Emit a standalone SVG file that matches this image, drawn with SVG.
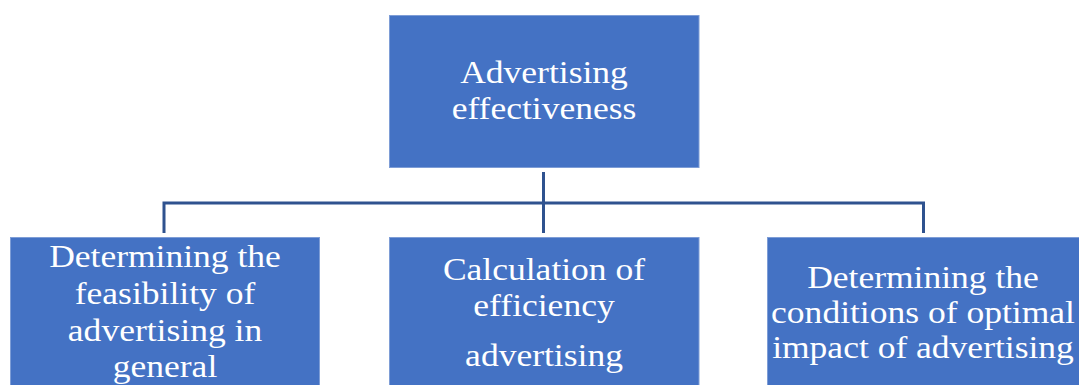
<svg xmlns="http://www.w3.org/2000/svg" width="1079" height="385" viewBox="0 0 1079 385">
  <style>
    .box { fill: #4472C4; stroke: #7E9DD6; stroke-width: 1; }
    .lbl { font-family: "Liberation Serif", "Times New Roman", serif; font-size: 32px; fill: #FFFFFF; text-anchor: middle; }
    .link { fill: none; stroke: #2F528F; stroke-width: 3; }
  </style>
  <rect width="1079" height="385" fill="#FFFFFF"/>

  <!-- tree connectors -->
  <g id="connectors">
    <path class="link" d="M543.5,172 V233"/>
    <path class="link" d="M164,233 V203 H923.5 V233"/>
  </g>

  <!-- root -->
  <g id="node-root">
    <rect class="box" x="389.5" y="15.5" width="309.5" height="152"/>
    <g transform="translate(544,0) scale(1.11,1)">
      <text class="lbl" x="0" y="83">Advertising</text>
      <text class="lbl" x="0" y="119.5">effectiveness</text>
    </g>
  </g>

  <!-- children -->
  <g id="node-feasibility">
    <rect class="box" x="10.5" y="237.5" width="309" height="150"/>
    <g transform="translate(165,0) scale(1.11,1)">
      <text class="lbl" x="0" y="267">Determining the</text>
      <text class="lbl" x="0" y="304">feasibility of</text>
      <text class="lbl" x="0" y="341">advertising in</text>
      <text class="lbl" x="0" y="377">general</text>
    </g>
  </g>

  <g id="node-efficiency">
    <rect class="box" x="389.5" y="237.5" width="309.5" height="150"/>
    <g transform="translate(544,0) scale(1.11,1)">
      <text class="lbl" x="0" y="280">Calculation of</text>
      <text class="lbl" x="0" y="316">efficiency</text>
      <text class="lbl" x="0" y="366.5">advertising</text>
    </g>
  </g>

  <g id="node-conditions">
    <rect class="box" x="767.5" y="237.5" width="315" height="150"/>
    <g transform="translate(923,0) scale(1.11,1)">
      <text class="lbl" x="0" y="288">Determining the</text>
      <text class="lbl" x="0" y="323">conditions of optimal</text>
      <text class="lbl" x="0" y="358">impact of advertising</text>
    </g>
  </g>
</svg>
